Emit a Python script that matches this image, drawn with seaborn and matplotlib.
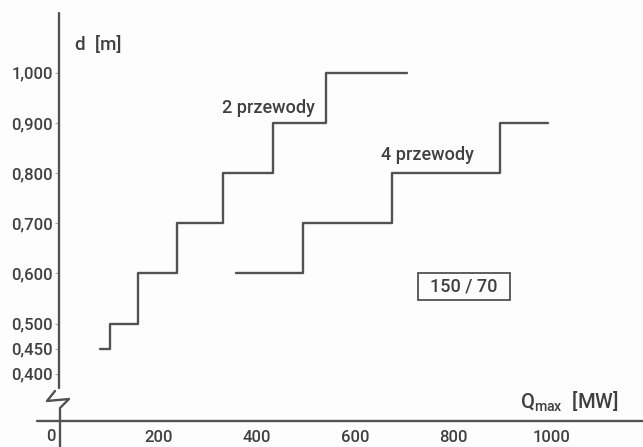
import matplotlib
matplotlib.use("Agg")
import matplotlib.pyplot as plt
import seaborn as sns
import pandas as pd
from matplotlib.patches import Rectangle

# ---- data ----
q_2 = [80, 100, 157, 237, 330, 432, 540, 705]
d_2 = [0.45, 0.50, 0.60, 0.70, 0.80, 0.90, 1.00, 1.00]
q_4 = [357, 493, 674, 894, 992]
d_4 = [0.60, 0.70, 0.80, 0.90, 0.90]
series_labels = ["2 przewody", "4 przewody"]
y_ticks = [0.40, 0.45, 0.50, 0.60, 0.70, 0.80, 0.90, 1.00]
y_ticklabels = ["0,400", "0,450", "0,500", "0,600", "0,700", "0,800", "0,900", "1,000"]
x_ticks = [200, 400, 600, 800, 1000]
x_ticklabels = ["200", "400", "600", "800", "1000"]
box_label = "150 / 70"

df = pd.DataFrame({
    "Q": q_2 + q_4,
    "d": d_2 + d_4,
    "s": [series_labels[0]] * len(q_2) + [series_labels[1]] * len(q_4),
})

sns.set_theme(style="white")
FONT = "Roboto"
plt.rcParams["font.family"] = [FONT, "DejaVu Sans"]
plt.rcParams["font.weight"] = "medium"
plt.rcParams["mathtext.fontset"] = "custom"
plt.rcParams["mathtext.rm"] = FONT + ":medium"

INK = "#525252"
TXT = "#404040"
TICK_FS = 12
LAB_FS = 13

W, H = 643, 447
fig = plt.figure(figsize=(W / 100, H / 100), dpi=100, facecolor="#fdfdfd")
L, R, B, T = 59, 643, 421, 13
ax = fig.add_axes([L / W, 1 - B / H, (R - L) / W, (B - T) / H])
ax.set_facecolor("#fdfdfd")

sns.lineplot(data=df, x="Q", y="d", hue="s", palette=[INK, INK],
             drawstyle="steps-post", estimator=None, legend=False,
             linewidth=1.7, ax=ax)

ax.set_xlim(-3.7, 1185.7)
ax.set_ylim(0.306, 1.119)
for s in ax.spines.values():
    s.set_visible(False)

ax.set_yticks(y_ticks)
ax.set_yticklabels(y_ticklabels)
ax.set_xticks(x_ticks)
ax.set_xticklabels(x_ticklabels)
ax.tick_params(axis="y", direction="out", length=3, width=0.8, color="#aaaaaa",
               pad=1.5, labelsize=TICK_FS, labelcolor=TXT, left=True)
ax.tick_params(axis="x", length=0, pad=6.5, labelsize=TICK_FS, labelcolor=TXT, bottom=True)
ax.set_xlabel("")
ax.set_ylabel("")

# axis lines (with broken y axis)
def ax_x(px):
    return (px - L) / (R - L)

def ax_y(py):
    return (B - py) / (B - T)

ax.plot([0, 0], [1, ax_y(388)], color=INK, lw=1.7, transform=ax.transAxes, clip_on=False)
zx = [ax_x(p) for p in (55, 47, 69, 60, 60)]
zy = [ax_y(p) for p in (391, 401, 399, 408, 447)]
ax.plot(zx, zy, color=INK, lw=1.7, transform=ax.transAxes, clip_on=False)
ax.plot([ax_x(37), 1], [0, 0], color=INK, lw=1.7, transform=ax.transAxes, clip_on=False)

# "0" label left of the axis
ax.annotate("0", xy=(0, 0), xycoords=("data", "axes fraction"), xytext=(-4, -16.3),
            textcoords="offset points", ha="right", va="bottom",
            fontsize=TICK_FS, color=TXT, annotation_clip=False)

# labels
ax.text(423, 0.930, series_labels[0], ha="center", va="center", fontsize=LAB_FS, color=TXT)
ax.text(746, 0.836, series_labels[1], ha="center", va="center", fontsize=LAB_FS, color=TXT)
ax.text(76, 1.056, "d  [m]", ha="center", va="center", fontsize=LAB_FS + 0.5, color=TXT)
ax.text(1035, 0.344, r"Q$_{\rm max}$  [MW]", ha="center", va="center", fontsize=LAB_FS + 1.5, color=TXT)

# boxed label
ax.add_patch(Rectangle((727.5, 0.547), 187.5, 0.054, fill=False, edgecolor=INK, lw=1.3))
ax.text(821, 0.574, box_label, ha="center", va="center", fontsize=LAB_FS, color=TXT)

fig.savefig("out.png", dpi=100, facecolor=fig.get_facecolor())
